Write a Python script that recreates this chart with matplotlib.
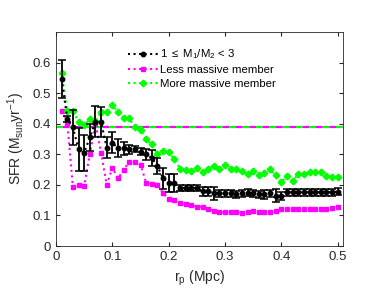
import numpy as np
import matplotlib.pyplot as plt

plt.rcParams['font.family'] = ['Liberation Sans', 'DejaVu Sans']
plt.rcParams['mathtext.fontset'] = 'custom'
plt.rcParams['mathtext.rm'] = 'Liberation Sans'
plt.rcParams['mathtext.it'] = 'Liberation Sans'

# projected separation (Mpc)
rp = np.arange(1, 51) / 100.0

# 1 <= M1/M2 < 3 (mean and error)
sfr_all = [0.547, 0.416, 0.388, 0.317, 0.305, 0.355, 0.407, 0.405, 0.322, 0.338,
           0.32, 0.319, 0.317, 0.317, 0.309, 0.30, 0.288, 0.261, 0.222, 0.207,
           0.207, 0.19, 0.19, 0.19, 0.19, 0.179, 0.179, 0.172, 0.172, 0.172,
           0.172, 0.169, 0.172, 0.174, 0.172, 0.169, 0.169, 0.172, 0.165, 0.163,
           0.176, 0.176, 0.176, 0.176, 0.176, 0.176, 0.176, 0.176, 0.176, 0.178]
err_all = [0.063, 0.01, 0.058, 0.07, 0.058, 0.045, 0.05, 0.05, 0.034, 0.035,
           0.03, 0.02, 0.015, 0.01, 0.01, 0.018, 0.025, 0.027, 0.034, 0.03,
           0.03, 0.011, 0.01, 0.01, 0.01, 0.015, 0.015, 0.02, 0.012, 0.012,
           0.012, 0.012, 0.012, 0.012, 0.012, 0.012, 0.015, 0.012, 0.02, 0.013,
           0.012, 0.012, 0.012, 0.012, 0.012, 0.012, 0.012, 0.012, 0.012, 0.012]

# less massive member
sfr_less = [0.443, 0.404, 0.192, 0.199, 0.196, 0.30, 0.40, 0.305, 0.20, 0.256,
            0.221, 0.249, 0.276, 0.275, 0.266, 0.207, 0.204, 0.200, 0.173, 0.153,
            0.152, 0.140, 0.138, 0.135, 0.129, 0.128, 0.122, 0.114, 0.110, 0.110,
            0.110, 0.110, 0.109, 0.110, 0.114, 0.111, 0.111, 0.110, 0.115, 0.122,
            0.122, 0.122, 0.121, 0.121, 0.121, 0.121, 0.122, 0.122, 0.123, 0.128]

# more massive member
sfr_more = [0.565, 0.443, 0.443, 0.405, 0.395, 0.415, 0.41, 0.44, 0.44, 0.46,
            0.44, 0.42, 0.418, 0.388, 0.38, 0.35, 0.333, 0.30, 0.311, 0.306,
            0.284, 0.253, 0.249, 0.245, 0.256, 0.242, 0.253, 0.262, 0.251, 0.266,
            0.253, 0.251, 0.244, 0.234, 0.245, 0.231, 0.24, 0.251, 0.231, 0.209,
            0.229, 0.214, 0.234, 0.236, 0.243, 0.243, 0.242, 0.229, 0.226, 0.227]

# reference level
sfr_ref = 0.39

fig = plt.figure(figsize=(3.82, 3.05), dpi=100)
ax = fig.add_axes([0.1466, 0.1934, 0.898 - 0.1466, 0.895 - 0.1934])

ax.axhline(sfr_ref, color='#00ff00', lw=1.6, ls=(0, (3, 3)))
ax.axhline(sfr_ref, color='#ff00ff', lw=1.6, ls=(3, (3, 3)))

h1 = ax.errorbar(rp, sfr_all, yerr=err_all, color='k', ls=':', lw=1.5, marker='o',
                 ms=3.2, capsize=3.2, elinewidth=1.3, capthick=1.1, zorder=4)
h2, = ax.plot(rp, sfr_less, color='#ff00ff', ls=':', lw=1.5, marker='s', ms=3.2,
              zorder=3)
h3, = ax.plot(rp, sfr_more, color='#00ff00', ls=':', lw=1.5, marker='D', ms=3.4,
              zorder=3)

ax.set_xlim(0, 0.5094)
ax.set_ylim(0, 0.7)
ax.set_xticks(np.arange(0, 0.51, 0.1))
ax.set_yticks(np.arange(0, 0.61, 0.1))
ax.set_xticklabels(['0', '0.1', '0.2', '0.3', '0.4', '0.5'])
ax.set_yticklabels(['0', '0.1', '0.2', '0.3', '0.4', '0.5', '0.6'])
ax.tick_params(direction='in', top=True, right=True, length=3, labelsize=9.5,
               colors='#262626')
for s in ax.spines.values():
    s.set_color('#262626')
    s.set_linewidth(0.6)

ax.set_xlabel(r'r$_p$ (Mpc)', fontsize=10, color='#262626')
ax.set_ylabel(r'SFR (M$_{sun}$yr$^{-1}$)', fontsize=10, color='#262626')

# legend: line only for the errorbar entry (like the original)
lh1, = ax.plot([], [], color='k', ls=':', lw=1.5, marker='o', ms=3.2)
ax.legend([lh1, h2, h3],
          [r'1 $\leq$ M$_1$/M$_2$ < 3', 'Less massive member', 'More massive member'],
          loc='upper left', bbox_to_anchor=(0.215, 0.975), frameon=False,
          fontsize=8.2, handlelength=2.6, handletextpad=0.2, labelspacing=0.35,
          numpoints=1)

fig.savefig('out.png', dpi=100)
